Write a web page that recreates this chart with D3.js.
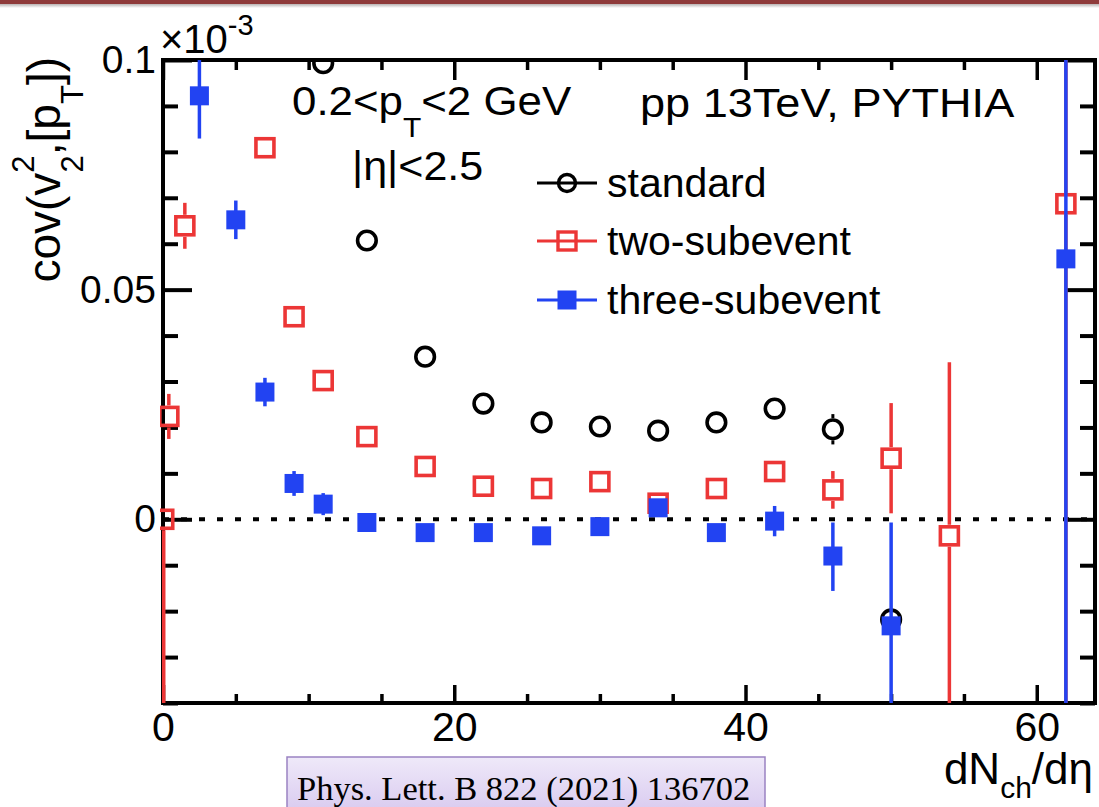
<!DOCTYPE html>
<html>
<head>
<meta charset="utf-8">
<script src="https://cdn.jsdelivr.net/npm/d3@7"></script>
<style>
  html, body { margin: 0; padding: 0; background: #fff; }
  svg { display: block; }
  text { font-family: "Liberation Sans", Arial, Helvetica, sans-serif; fill: #000; }
</style>
</head>
<body>
<svg id="chart" width="1099" height="807"></svg>
<script>
// ---------------- data ----------------
const seriesNames = ["standard", "two-subevent", "three-subevent"];

const stdX   = [11, 14, 18, 22, 26, 30, 34, 38, 42, 46, 50];
const stdY   = [0.0993, 0.0607, 0.0354, 0.0252, 0.0211, 0.0202, 0.0193, 0.0211, 0.0241, 0.0196, -0.0218];
const stdErr = [0.0004, 0.0005, 0.0005, 0.0005, 0.0006, 0.0006, 0.0007, 0.0008, 0.0010, 0.0033, 0.0020];

const twoX      = [0.05, 0.4, 1.5, 7, 9, 11, 14, 18, 22, 26, 30, 34, 38, 42, 46, 50, 54, 62];
const twoY      = [0.0, 0.0224, 0.0639, 0.0809, 0.0441, 0.0302, 0.0180, 0.0115, 0.0072, 0.0067, 0.0082, 0.0035, 0.0067, 0.0104, 0.0064, 0.0133, -0.0036, 0.0687];
const twoErrUp  = [0.0, 0.0049, 0.0050, 0.0010, 0.0010, 0.0010, 0.0010, 0.0010, 0.0010, 0.0010, 0.0012, 0.0012, 0.0013, 0.0015, 0.0041, 0.0120, 0.0378, 0.2000];
const twoErrDn  = [0.0450, 0.0049, 0.0050, 0.0010, 0.0010, 0.0010, 0.0010, 0.0010, 0.0010, 0.0010, 0.0012, 0.0012, 0.0013, 0.0015, 0.0041, 0.0120, 0.0450, 0.2000];

const threeX     = [2.5, 5, 7, 9, 11, 14, 18, 22, 26, 30, 34, 38, 42, 46, 50, 62];
const threeY     = [0.0922, 0.0652, 0.0277, 0.0078, 0.0033, -0.0007, -0.0029, -0.0029, -0.0036, -0.0016, 0.0025, -0.0029, -0.0004, -0.0080, -0.0232, 0.0567];
const threeErrUp = [0.0100, 0.0042, 0.0031, 0.0027, 0.0024, 0.0012, 0.0012, 0.0012, 0.0013, 0.0013, 0.0014, 0.0014, 0.0033, 0.0073, 0.0225, 0.2000];
const threeErrDn = [0.0093, 0.0042, 0.0031, 0.0027, 0.0024, 0.0012, 0.0012, 0.0012, 0.0013, 0.0013, 0.0014, 0.0014, 0.0033, 0.0076, 0.0300, 0.2000];

const xMajorTicks  = [0, 20, 40, 60];
const xTickLabels  = ["0", "20", "40", "60"];
const xMinorTicks  = [5, 10, 15, 25, 30, 35, 45, 50, 55];
const yMajorTicks  = [0, 0.05, 0.1];
const yTickLabels  = ["0", "0.05", "0.1"];
const yMinorTicks  = [-0.04, -0.03, -0.02, -0.01, 0.01, 0.02, 0.03, 0.04, 0.06, 0.07, 0.08, 0.09];

const citation = "Phys. Lett. B 822 (2021) 136702";

// ---------------- layout ----------------
const svg = d3.select("#chart");
const L = 163, R = 1095, T = 60, B = 703;
const xs = d3.scaleLinear().domain([0, 64]).range([L, R]);
const ys = d3.scaleLinear().domain([-0.04, 0.1]).range([B, T]);

const colBlack = "#000", colRed = "#ec3636", colBlue = "#2243f2";

// top banner
const defs = svg.append("defs");
const shade = defs.append("linearGradient").attr("id", "shade").attr("x1", 0).attr("y1", 0).attr("x2", 0).attr("y2", 1);
shade.append("stop").attr("offset", "0%").attr("stop-color", "#b9b3b3");
shade.append("stop").attr("offset", "100%").attr("stop-color", "#ffffff");
svg.append("rect").attr("x", 0).attr("y", 4).attr("width", 1099).attr("height", 4).attr("fill", "url(#shade)");
svg.append("rect").attr("x", 0).attr("y", 0).attr("width", 1099).attr("height", 4).attr("fill", "#8f3b3b");

// clip
defs.append("clipPath").attr("id", "plotclip").append("rect")
  .attr("x", L - 3).attr("y", T).attr("width", R - L + 6).attr("height", B - T);

// ---------------- axes ----------------
function styleAxis(g, w, fs) {
  g.select(".domain").remove();
  g.selectAll(".tick line").attr("stroke", "#000").attr("stroke-width", w);
  g.selectAll(".tick text").attr("font-size", fs || 38).attr("fill", "#000")
    .style("font-family", '"Liberation Sans", Arial, sans-serif');
}
// bottom
svg.append("g").attr("transform", `translate(0,${B})`)
  .call(d3.axisBottom(xs).tickValues(xMajorTicks).tickSize(-18).tickPadding(9)
        .tickFormat((d, i) => xTickLabels[i]))
  .call(g => styleAxis(g, 3.5, 41));
svg.append("g").attr("transform", `translate(0,${B})`)
  .call(d3.axisBottom(xs).tickValues(xMinorTicks).tickSize(-9).tickFormat(""))
  .call(g => styleAxis(g, 3.5));
// top
svg.append("g").attr("transform", `translate(0,${T})`)
  .call(d3.axisTop(xs).tickValues(xMajorTicks).tickSize(-20).tickFormat(""))
  .call(g => styleAxis(g, 3.5));
svg.append("g").attr("transform", `translate(0,${T})`)
  .call(d3.axisTop(xs).tickValues(xMinorTicks).tickSize(-10).tickFormat(""))
  .call(g => styleAxis(g, 3.5));
// left
svg.append("g").attr("transform", `translate(${L},0)`)
  .call(d3.axisLeft(ys).tickValues(yMajorTicks).tickSize(-29).tickPadding(7)
        .tickFormat((d, i) => yTickLabels[i]))
  .call(g => styleAxis(g, 4, 39));
svg.append("g").attr("transform", `translate(${L},0)`)
  .call(d3.axisLeft(ys).tickValues(yMinorTicks).tickSize(-15).tickFormat(""))
  .call(g => styleAxis(g, 4));
// right
svg.append("g").attr("transform", `translate(${R},0)`)
  .call(d3.axisRight(ys).tickValues(yMajorTicks).tickSize(-29).tickFormat(""))
  .call(g => styleAxis(g, 4));
svg.append("g").attr("transform", `translate(${R},0)`)
  .call(d3.axisRight(ys).tickValues(yMinorTicks).tickSize(-15).tickFormat(""))
  .call(g => styleAxis(g, 4));

// frame
svg.append("rect").attr("x", L).attr("y", T).attr("width", R - L).attr("height", B - T)
  .attr("fill", "none").attr("stroke", "#000").attr("stroke-width", 4);

// zero dotted line
svg.append("line").attr("x1", xs(0)).attr("x2", xs(64)).attr("y1", ys(0)).attr("y2", ys(0))
  .attr("stroke", "#000").attr("stroke-width", 4).attr("stroke-dasharray", "6,12");

// ---------------- data marks ----------------
const plot = svg.append("g").attr("clip-path", "url(#plotclip)");

function errorBars(g, X, Y, up, dn, half, color, w) {
  X.forEach((xv, i) => {
    const cx = xs(xv), cy = ys(Y[i]);
    const top = ys(Y[i] + up[i]), bot = ys(Y[i] - dn[i]);
    if (top < cy - half) g.append("line").attr("x1", cx).attr("x2", cx).attr("y1", top).attr("y2", cy - half)
      .attr("stroke", color).attr("stroke-width", w);
    if (bot > cy + half) g.append("line").attr("x1", cx).attr("x2", cx).attr("y1", cy + half).attr("y2", bot)
      .attr("stroke", color).attr("stroke-width", w);
  });
}

// standard (open circles)
const gStd = plot.append("g");
errorBars(gStd, stdX, stdY, stdErr, stdErr, 11, colBlack, 3);
gStd.selectAll("circle").data(stdX).join("circle")
  .attr("cx", d => xs(d)).attr("cy", (d, i) => ys(stdY[i])).attr("r", 9.3)
  .attr("fill", "none").attr("stroke", colBlack).attr("stroke-width", 3.6);

// two-subevent (open squares)
const gTwo = plot.append("g");
errorBars(gTwo, twoX, twoY, twoErrUp, twoErrDn, 11, colRed, 3.5);
gTwo.selectAll("rect").data(twoX).join("rect")
  .attr("x", d => xs(d) - 9).attr("y", (d, i) => ys(twoY[i]) - 9).attr("width", 18).attr("height", 18)
  .attr("fill", "none").attr("stroke", colRed).attr("stroke-width", 3.6);

// three-subevent (filled squares)
const gThree = plot.append("g");
errorBars(gThree, threeX, threeY, threeErrUp, threeErrDn, 0, colBlue, 3.5);
gThree.selectAll("rect").data(threeX).join("rect")
  .attr("x", d => xs(d) - 9.5).attr("y", (d, i) => ys(threeY[i]) - 9.5).attr("width", 19).attr("height", 19)
  .attr("fill", colBlue);

// ---------------- legend ----------------
const legY = [183, 241, 300];
const legX1 = 537, legX2 = 597, legM = 567;
const leg = svg.append("g");
[colBlack, colRed, colBlue].forEach((c, i) => {
  leg.append("line").attr("x1", legX1).attr("x2", legX2).attr("y1", legY[i]).attr("y2", legY[i])
    .attr("stroke", c).attr("stroke-width", 3);
  if (i === 0) leg.append("circle").attr("cx", legM).attr("cy", legY[i]).attr("r", 8.5)
    .attr("fill", "none").attr("stroke", c).attr("stroke-width", 3.4);
  else if (i === 1) leg.append("rect").attr("x", legM - 9).attr("y", legY[i] - 9).attr("width", 18).attr("height", 18)
    .attr("fill", "none").attr("stroke", c).attr("stroke-width", 3.4);
  else leg.append("rect").attr("x", legM - 9.5).attr("y", legY[i] - 9.5).attr("width", 19).attr("height", 19).attr("fill", c);
  leg.append("text").attr("x", 607).attr("y", legY[i] + 14).attr("font-size", 41).text(seriesNames[i]);
});

// ---------------- annotations ----------------
const t1 = svg.append("g").attr("transform", "translate(292,115) scale(1.07,1)")
  .append("text").attr("x", 0).attr("y", 0).attr("font-size", 41);
t1.append("tspan").text("0.2<p");
t1.append("tspan").attr("dy", 22).attr("font-size", 28).text("T");
t1.append("tspan").attr("dy", -22).text("<2 GeV");

svg.append("g").attr("transform", "translate(352,180) scale(1.05,1)")
  .append("text").attr("x", 0).attr("y", 0).attr("font-size", 41).text("|η|<2.5");
svg.append("g").attr("transform", "translate(640,117) scale(1.1,1)")
  .append("text").attr("x", 0).attr("y", 0).attr("font-size", 41).text("pp 13TeV, PYTHIA");

// exponent
const ex = svg.append("text").attr("x", 160).attr("y", 53).attr("font-size", 40);
ex.append("tspan").text("×10");
ex.append("tspan").attr("dy", -18).attr("font-size", 29).text("-3");

// y label
const yl = svg.append("text").attr("transform", "translate(60,57) rotate(-90)")
  .attr("text-anchor", "end").attr("font-size", 46);
yl.append("tspan").text("cov(v");
yl.append("tspan").attr("dy", -26).attr("font-size", 31).text("2");
yl.append("tspan").attr("dx", -17).attr("dy", 49).attr("font-size", 31).text("2");
yl.append("tspan").attr("dy", -23).text(",[p");
yl.append("tspan").attr("dy", 23).attr("font-size", 31).text("T");
yl.append("tspan").attr("dy", -23).text("])");

// x label
const xl = svg.append("text").attr("x", 1093).attr("y", 784).attr("text-anchor", "end").attr("font-size", 44);
xl.append("tspan").text("dN");
xl.append("tspan").attr("dy", 14).attr("font-size", 30).text("ch");
xl.append("tspan").attr("dy", -14).text("/dη");

// ---------------- citation box ----------------
const cg = defs.append("linearGradient").attr("id", "citeg").attr("x1", 0).attr("y1", 0).attr("x2", 0).attr("y2", 1);
cg.append("stop").attr("offset", "0%").attr("stop-color", "#efe9f9");
cg.append("stop").attr("offset", "100%").attr("stop-color", "#d7c8ef");
svg.append("rect").attr("x", 287).attr("y", 757).attr("width", 478).attr("height", 60)
  .attr("fill", "url(#citeg)").attr("stroke", "#9a82c2").attr("stroke-width", 1.5);
svg.append("text").attr("x", 297).attr("y", 800).attr("font-size", 34.5)
  .style("font-family", '"Liberation Serif", "Times New Roman", serif').attr("fill", "#111")
  .text(citation);
</script>
</body>
</html>
